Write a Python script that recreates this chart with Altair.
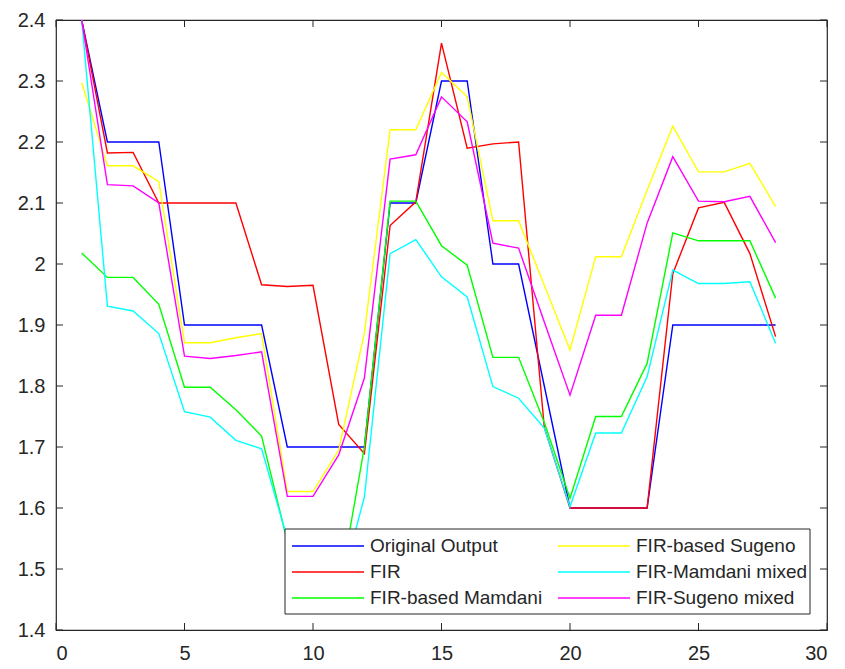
import altair as alt
import pandas as pd

# Sample index shared by every series
x_index = [1, 2, 3, 4, 5, 6, 7, 8, 9, 10, 11, 12, 13, 14,
           15, 16, 17, 18, 19, 20, 21, 22, 23, 24, 25, 26, 27, 28]

original_output = [2.4, 2.2, 2.2, 2.2, 1.9, 1.9, 1.9, 1.9, 1.7, 1.7, 1.7, 1.7, 2.1, 2.1,
                   2.3, 2.3, 2.0, 2.0, 1.8, 1.6, 1.6, 1.6, 1.6, 1.9, 1.9, 1.9, 1.9, 1.9]
fir = [2.4, 2.182, 2.183, 2.1, 2.1, 2.1, 2.1, 1.966, 1.963, 1.965, 1.737, 1.689, 2.063, 2.102,
       2.362, 2.19, 2.197, 2.2, 1.732, 1.6, 1.6, 1.6, 1.6, 1.984, 2.092, 2.101, 2.017, 1.881]
fir_mamdani = [2.018, 1.978, 1.978, 1.934, 1.798, 1.798, 1.761, 1.718, 1.545, 1.49, 1.46, 1.70, 2.103, 2.103,
               2.03, 1.998, 1.847, 1.847, 1.74, 1.616, 1.75, 1.75, 1.837, 2.051, 2.038, 2.038, 2.038, 1.944]
fir_sugeno = [2.297, 2.161, 2.161, 2.135, 1.871, 1.871, 1.879, 1.886, 1.627, 1.627, 1.695, 1.887, 2.22, 2.22,
              2.314, 2.274, 2.071, 2.071, 1.965, 1.859, 2.012, 2.012, 2.121, 2.226, 2.151, 2.151, 2.165, 2.094]
mamdani_mixed = [2.4, 1.931, 1.923, 1.886, 1.758, 1.749, 1.711, 1.697, 1.55, 1.5, 1.46, 1.618, 2.017, 2.04,
                 1.979, 1.946, 1.799, 1.78, 1.731, 1.602, 1.723, 1.723, 1.815, 1.99, 1.968, 1.968, 1.971, 1.87]
sugeno_mixed = [2.4, 2.13, 2.128, 2.1, 1.849, 1.845, 1.85, 1.856, 1.619, 1.619, 1.687, 1.813, 2.172, 2.179,
                2.274, 2.233, 2.034, 2.026, 1.905, 1.785, 1.916, 1.916, 2.067, 2.176, 2.103, 2.102, 2.111, 2.035]

# Plot order (later series are drawn on top); the legend lists them column by column
series_names = ["Original Output", "FIR", "FIR-based Mamdani",
                "FIR-based Sugeno", "FIR-Mamdani mixed", "FIR-Sugeno mixed"]
series_values = [original_output, fir, fir_mamdani, fir_sugeno, mamdani_mixed, sugeno_mixed]
series_colors = ["#0000ff", "#ff0000", "#00ff00", "#ffff00", "#00ffff", "#ff00ff"]

x_ticks = [0, 5, 10, 15, 20, 25, 30]
y_ticks = [1.4, 1.5, 1.6, 1.7, 1.8, 1.9, 2.0, 2.1, 2.2, 2.3, 2.4]

rows = []
for name, values in zip(series_names, series_values):
    for xi, yi in zip(x_index, values):
        rows.append({"x": xi, "y": yi, "series": name})
df = pd.DataFrame(rows)

W, H = 771, 610
INK = "#262626"
FONT = "Liberation Sans"
TICK_LEN = 7

color_scale = alt.Scale(domain=series_names, range=series_colors)
x_scale = alt.Scale(domain=[0, 30], nice=False, zero=False)
y_scale = alt.Scale(domain=[1.4, 2.4], nice=False, zero=False)

x_axis = alt.Axis(values=x_ticks, format="d", title=None, ticks=False, tickSize=0,
                  domain=False, grid=False, labelFont=FONT, labelFontSize=20,
                  labelColor=INK, labelPadding=13)
y_axis = alt.Axis(values=y_ticks, format=".1~f", title=None, ticks=False, tickSize=0,
                  domain=False, grid=False, labelFont=FONT, labelFontSize=20,
                  labelColor=INK, labelPadding=11)

layers = []
for name in series_names:
    layers.append(
        alt.Chart(df)
        .transform_filter(alt.datum.series == name)
        .mark_line(strokeWidth=1.4, clip=True)
        .encode(
            x=alt.X("x:Q", scale=x_scale, axis=x_axis),
            y=alt.Y("y:Q", scale=y_scale, axis=y_axis),
            color=alt.Color("series:N", scale=color_scale, legend=None),
        )
    )

# Inward-pointing ticks on all four sides of the box
xt = pd.DataFrame({"x": x_ticks})
yt = pd.DataFrame({"y": y_ticks})
tick_bottom = alt.Chart(xt).mark_rule(color=INK, strokeWidth=1).encode(
    x=alt.X("x:Q", scale=x_scale, axis=x_axis), y=alt.value(H), y2=alt.value(H - TICK_LEN))
tick_top = alt.Chart(xt).mark_rule(color=INK, strokeWidth=1).encode(
    x=alt.X("x:Q", scale=x_scale, axis=x_axis), y=alt.value(0), y2=alt.value(TICK_LEN))
tick_left = alt.Chart(yt).mark_rule(color=INK, strokeWidth=1).encode(
    y=alt.Y("y:Q", scale=y_scale, axis=y_axis), x=alt.value(0), x2=alt.value(TICK_LEN))
tick_right = alt.Chart(yt).mark_rule(color=INK, strokeWidth=1).encode(
    y=alt.Y("y:Q", scale=y_scale, axis=y_axis), x=alt.value(W), x2=alt.value(W - TICK_LEN))

# Boxed two-column legend in the lower right of the plot area
LEG_X0, LEG_X1 = 229, 754
LEG_Y0, LEG_Y1 = 509, 594
LEG_PAD = 7
FIRST_ROW = 17
ROW_STEP = 26
COL_STEP = 266
SWATCH = 72
LABEL_GAP = 78

one = pd.DataFrame({"k": [0]})
legend_layers = [
    alt.Chart(one).mark_rect(fill="white", stroke=INK, strokeWidth=1).encode(
        x=alt.value(LEG_X0), x2=alt.value(LEG_X1), y=alt.value(LEG_Y0), y2=alt.value(LEG_Y1))
]
for i, (name, col) in enumerate(zip(series_names, series_colors)):
    cx = LEG_X0 + LEG_PAD + (i // 3) * COL_STEP
    cy = LEG_Y0 + FIRST_ROW + (i % 3) * ROW_STEP
    entry = pd.DataFrame({"label": [name]})
    legend_layers.append(
        alt.Chart(entry).mark_rule(color=col, strokeWidth=1.5).encode(
            x=alt.value(cx), x2=alt.value(cx + SWATCH), y=alt.value(cy))
    )
    legend_layers.append(
        alt.Chart(entry).mark_text(align="left", baseline="middle", font=FONT,
                                   fontSize=19, color=INK).encode(
            x=alt.value(cx + LABEL_GAP), y=alt.value(cy), text="label:N")
    )

chart = (
    alt.layer(*layers, tick_bottom, tick_top, tick_left, tick_right, *legend_layers)
    .properties(
        width=W, height=H,
        autosize=alt.AutoSizeParams(type="none"),
        padding={"left": 56, "top": 20, "right": 18, "bottom": 39},
        background="white",
    )
    .configure_view(stroke=INK, strokeWidth=1.2)
)

chart.save("out.html", embed_options={"renderer": "svg", "actions": False})
